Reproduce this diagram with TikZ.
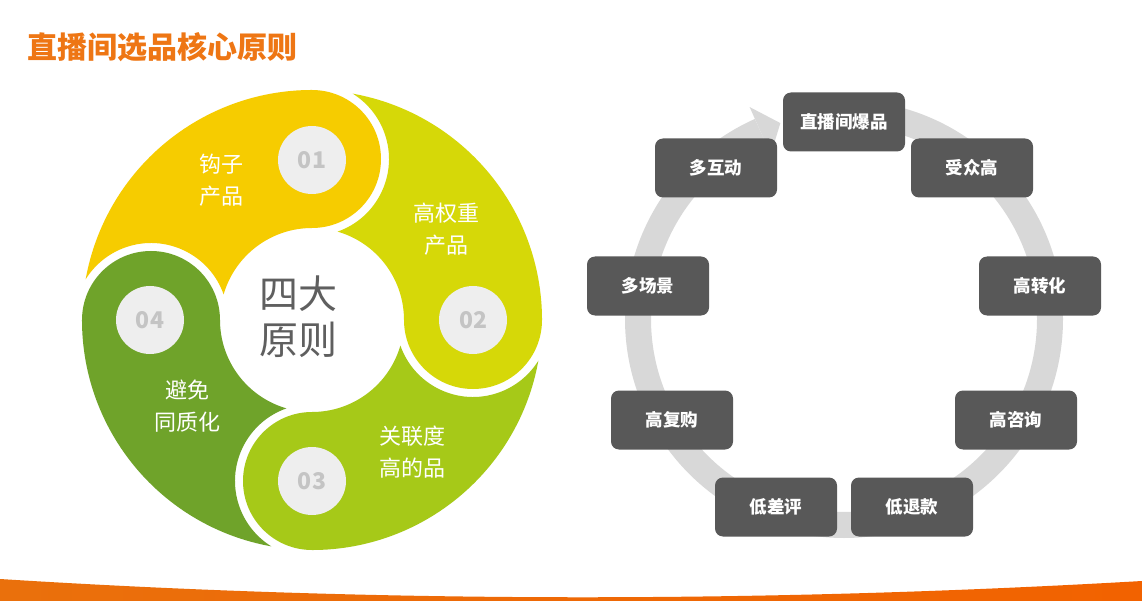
\documentclass[tikz,border=0pt]{standalone}
\usepackage{fontspec}
\setmainfont{Noto Sans CJK SC}
\definecolor{cone}{RGB}{246,204,0}
\definecolor{ctwo}{RGB}{214,216,8}
\definecolor{cthree}{RGB}{166,201,24}
\definecolor{cfour}{RGB}{111,163,42}
\definecolor{numbg}{RGB}{238,238,238}
\definecolor{numtx}{RGB}{196,196,196}
\definecolor{centtx}{RGB}{95,95,95}
\definecolor{titleor}{RGB}{238,118,20}
\definecolor{boxgray}{RGB}{88,88,88}
\definecolor{ringgray}{RGB}{216,216,216}
\definecolor{barl}{RGB}{234,112,12}
\definecolor{barr}{RGB}{242,98,0}
\begin{document}
\begin{tikzpicture}[x=1pt,y=-1pt,
  numc/.style={circle,fill=numbg,minimum size=68pt,inner sep=0pt,text=numtx,font=\bfseries\fontsize{23}{26}\selectfont},
  petallabel/.style={align=center,text=white,inner sep=0pt,font=\fontsize{22}{32}\selectfont},
  stepbox/.style={rectangle,rounded corners=8pt,fill=boxgray,minimum width=122pt,minimum height=59pt,inner sep=0pt,text=white,font=\bfseries\fontsize{17.5}{20}\selectfont},
  ringband/.style={draw=ringgray,line width=26pt}]
\useasboundingbox (0,0) rectangle (1142,601);
\fill[white] (0,0) rectangle (1142,601);
% title
\node[anchor=west,inner sep=0pt,text=titleor,font=\bfseries\fontsize{30}{33}\selectfont] (title) at (27,47) {直播间选品核心原则};
% left wheel
\begin{scope}[shift={(312,320)},yscale=-1]
\foreach \t/\c in {90/cone,0/ctwo,-90/cthree,180/cfour}{
  \fill[\c] (\t:230) arc[start angle=\t, end angle=\t-180, radius=69]
    arc[start angle=\t, end angle=\t+73.86, radius=92]
    arc[start angle=\t-70.60, end angle=\t+58.09, radius=77]
    arc[start angle=\t+79.81, end angle=\t, radius=230] -- cycle;
}
\end{scope}
\node[numc] (n1) at (312,160) {01};
\node[numc] (n2) at (473,320) {02};
\node[numc] (n3) at (312,481) {03};
\node[numc] (n4) at (150,320) {04};
\node[align=center,inner sep=0pt,text=centtx,font=\fontsize{39}{46}\selectfont] (center) at (298,317) {四大\\原则};
\node[petallabel] (l1) at (221,180) {钩子\\产品};
\node[petallabel] (l2) at (446,229) {高权重\\产品};
\node[petallabel] (l3) at (412,452) {关联度\\高的品};
\node[petallabel] (l4) at (187,406) {避免\\同质化};
% right ring
\begin{scope}[shift={(844,319)},yscale=-1]
\draw[ringband] (90:206) arc[start angle=90, end angle=-246, radius=206];
\fill[ringgray] (114:232) -- (108:206) -- (114:180) -- cycle;
\end{scope}
\node[stepbox] (b1) at (844,122) {直播间爆品};
\node[stepbox] (b2) at (972,168) {受众高};
\node[stepbox] (b3) at (1040,286) {高转化};
\node[stepbox] (b4) at (1016,420) {高咨询};
\node[stepbox] (b5) at (912,507) {低退款};
\node[stepbox] (b6) at (776,507) {低差评};
\node[stepbox] (b7) at (672,420) {高复购};
\node[stepbox] (b8) at (648,286) {多场景};
\node[stepbox] (b9) at (716,168) {多互动};
% bottom bar
\shade[left color=barl,right color=barr] (0,579) .. controls (380,603) and (760,603) .. (1142,581) -- (1142,601) -- (0,601) -- cycle;
\end{tikzpicture}
\end{document}
